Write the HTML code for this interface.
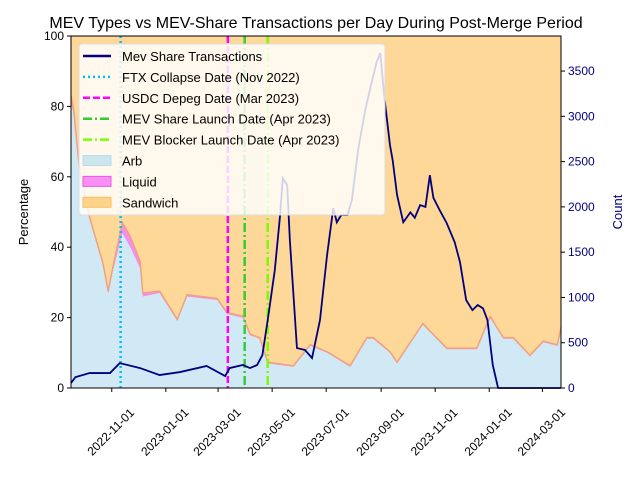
<!DOCTYPE html>
<html><head><meta charset="utf-8"><style>body{margin:0;background:#fff}svg{display:block;font-family:"Liberation Sans","DejaVu Sans",sans-serif}</style></head>
<body>
<svg id="chart" width="640" height="480" viewBox="0 0 640 480"></svg>
<script>
const shareDays=[0,5,21,44,55,78,100,123,153,174,179,194,202,210,216,222,230,236,239,244,247,255,264,272,281,289,296,300,305,312,317,324,332,340,345,349,354,360,363,368,375,383,388,394,400,405,409,416,424,433,439,446,453,459,465,470,476,482,553];
const shareCounts=[55,120,165,165,275,220,143,176,243,132,220,254,220,254,364,750,1302,1910,2318,2240,1633,441,420,331,750,1468,1987,1830,1910,1910,2075,2627,3068,3400,3600,3700,3180,2682,2517,2130,1830,1940,1880,2020,2000,2350,2100,1965,1821,1610,1390,970,860,916,880,750,254,0,0];
const mixDays=[0,3,10,21,36,42,47,58,67,78,81,100,120,131,165,176,194,202,213,222,251,270,289,315,334,341,360,368,397,424,458,473,488,499,518,533,549,553];
const arbPct=[81,78,60,48,35,27,33,44,40,34,26,27,19,26,25,21,20,15,14,7,6,12,10,6,14,14,10,7,18,11,11,20,14,14,9,13,12,17];
const liquidPct=[2,1,1,0.5,0.5,0.5,1,3,3,2,1,0.5,0.5,0.5,0.4,0.4,0.4,0.3,0.3,0.3,0.3,0.3,0.3,0.3,0.3,0.3,0.3,0.3,0.3,0.3,0.3,0.3,0.3,0.3,0.3,0.3,0.3,0.3];
const xTickLabels=["2022-11-01","2023-01-01","2023-03-01","2023-05-01","2023-07-01","2023-09-01","2023-11-01","2024-01-01","2024-03-01"];
const xTickDays=[46,107,166,227,288,350,411,472,532];
const yTicks=[0,20,40,60,80,100];
const y2Ticks=[0,500,1000,1500,2000,2500,3000,3500];
const eventDays=[56,177,196,222];
const eventLabels=["FTX Collapse Date (Nov 2022)","USDC Depeg Date (Mar 2023)","MEV Share Launch Date (Apr 2023)","MEV Blocker Launch Date (Apr 2023)"];

const L=71,R=561,T=36,B=388,NS="http://www.w3.org/2000/svg";
const svg=document.getElementById('chart');
const X=d=>L+d*(R-L)/553;
const Y=p=>B-p*(B-T)/100;
const Y2=c=>B-c*(B-T)/3887;
function mk(tag,attrs,parent){const e=document.createElementNS(NS,tag);for(const k in attrs)e.setAttribute(k,attrs[k]);(parent||svg).appendChild(e);return e;}
function txt(s,attrs){const e=mk('text',attrs);e.textContent=s;return e;}

let bg=mk('rect',{x:L,y:T,width:R-L,height:B-T,fill:'#fed898'});


let top1=mixDays.map((d,i)=>X(d)+','+Y(arbPct[i]));
let arb=mk('polygon',{points:X(0)+','+B+' '+top1.join(' ')+' '+X(553)+','+B,fill:'#d0e9f5'});


let top2=mixDays.map((d,i)=>X(d)+','+Y(arbPct[i]+liquidPct[i]));
let liq=mk('polygon',{points:top2.join(' ')+' '+top1.slice().reverse().join(' '),fill:'#f58cf0'});


let edge=mk('polyline',{points:top2.join(' '),fill:'none',stroke:'#f2a080','stroke-width':1.5});



const evStyle=[{c:'#00bfff',d:'2,3'},{c:'#ff00ff',d:'7,3'},{c:'#32cd32',d:'9,3,2,3'},{c:'#7cfc00',d:'9,3,2,3'}];
eventDays.forEach((d,i)=>{let l=mk('line',{x1:X(d),x2:X(d),y1:T,y2:B,stroke:evStyle[i].c,'stroke-width':2.5,'stroke-dasharray':evStyle[i].d});

});

let sl=mk('polyline',{points:shareDays.map((d,i)=>X(d)+','+Y2(shareCounts[i])).join(' '),fill:'none',stroke:'#000080','stroke-width':1.8});



mk('rect',{x:L,y:T,width:R-L,height:B-T,fill:'none',stroke:'#000','stroke-width':1});
yTicks.forEach(v=>{mk('line',{x1:L-4,x2:L,y1:Y(v),y2:Y(v),stroke:'#000'});let t=txt(v,{x:L-7,y:Y(v)+4,'text-anchor':'end','font-size':12});

});
y2Ticks.forEach(v=>{mk('line',{x1:R,x2:R+4,y1:Y2(v),y2:Y2(v),stroke:'#000'});let t=txt(v,{x:R+7,y:Y2(v)+4,'font-size':12,fill:'#000080'});

});
xTickDays.forEach((d,i)=>{mk('line',{x1:X(d),x2:X(d),y1:B,y2:B+4,stroke:'#000'});let t=txt(xTickLabels[i],{x:0,y:4,'text-anchor':'middle','font-size':12,transform:'translate('+(X(d)-1)+','+(B+44)+') rotate(-45)'});

});

const lg=mk('g',{});


mk('rect',{x:79,y:44,width:306,height:171,rx:3,fill:'#fff','fill-opacity':0.82,stroke:'#ddd'},lg);
const rows=[{t:'Mev Share Transactions',k:'line',c:'#000080',d:''}].concat(eventLabels.map((s,i)=>({t:s,k:'line',c:evStyle[i].c,d:evStyle[i].d}))).concat([{t:'Arb',k:'box',c:'#cce6f0',s:'#b8dce8'},{t:'Liquid',k:'box',c:'#f98ef5',s:'#e060e0'},{t:'Sandwich',k:'box',c:'#fdd28a',s:'#f8c060'}]);
rows.forEach((r,i)=>{const y=56+i*20.9;
 if(r.k==='line')mk('line',{x1:83,x2:111,y1:y,y2:y,stroke:r.c,'stroke-width':2.5,'stroke-dasharray':r.d},lg);
 else mk('rect',{x:83,y:y-5,width:28,height:10,fill:r.c,stroke:r.s},lg);
 const t=mk('text',{x:122,y:y+5,'font-size':13},lg);t.textContent=r.t;
 
 });

let ti=txt('MEV Types vs MEV-Share Transactions per Day During Post-Merge Period',{x:316,y:28,'text-anchor':'middle','font-size':16});


let yl=txt('Percentage',{x:0,y:0,'text-anchor':'middle','font-size':13,transform:'translate(28,212) rotate(-90)'});


let y2l=txt('Count',{x:0,y:0,'text-anchor':'middle','font-size':13,fill:'#000080',transform:'translate(622,212) rotate(-90)'});


</script>
</body></html>
